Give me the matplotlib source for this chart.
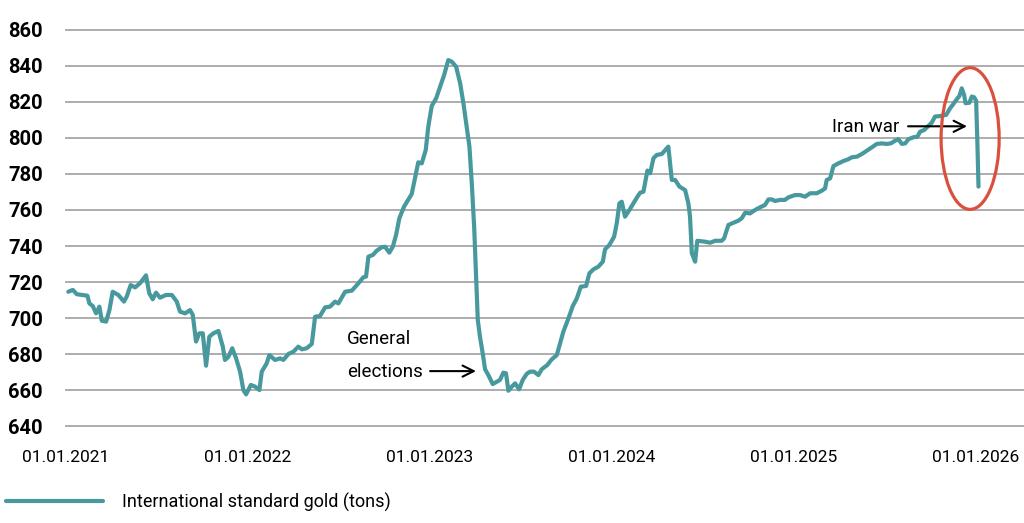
import matplotlib
matplotlib.use("Agg")
import matplotlib.pyplot as plt
import matplotlib.dates as mdates
from matplotlib.patches import Ellipse
import pandas as pd

# years since 01.01.2021
t = [0.015, 0.040, 0.062, 0.089, 0.120, 0.131, 0.149, 0.168, 0.186, 0.199,
     0.223, 0.241, 0.259, 0.290, 0.321, 0.336, 0.358, 0.382, 0.409, 0.442,
     0.460, 0.479, 0.497, 0.519, 0.552, 0.584, 0.611, 0.629, 0.657, 0.684,
     0.699, 0.717, 0.735, 0.754, 0.772, 0.790, 0.812, 0.840, 0.864, 0.876,
     0.895, 0.916, 0.937, 0.959, 0.977, 0.992, 1.018, 1.041, 1.065, 1.078,
     1.105, 1.120, 1.151, 1.179, 1.197, 1.224, 1.252, 1.279, 1.298, 1.325,
     1.353, 1.371, 1.398, 1.426, 1.453, 1.481, 1.499, 1.536, 1.573, 1.609,
     1.636, 1.651, 1.664, 1.688, 1.710, 1.737, 1.755, 1.779, 1.798, 1.816,
     1.834, 1.860, 1.884, 1.902, 1.920, 1.938, 1.957, 1.979, 1.993, 2.012,
     2.036, 2.058, 2.080, 2.103, 2.122, 2.146, 2.168, 2.186, 2.204, 2.219,
     2.232, 2.245, 2.255, 2.265, 2.277, 2.292, 2.305, 2.323, 2.347, 2.369,
     2.387, 2.405, 2.420, 2.433, 2.452, 2.470, 2.492, 2.512, 2.534, 2.552,
     2.574, 2.598, 2.616, 2.647, 2.671, 2.699, 2.717, 2.735, 2.763, 2.787,
     2.809, 2.831, 2.860, 2.878, 2.900, 2.927, 2.952, 2.964, 2.988, 3.014,
     3.029, 3.043, 3.056, 3.074, 3.098, 3.120, 3.142, 3.157, 3.175, 3.197,
     3.212, 3.230, 3.248, 3.276, 3.312, 3.331, 3.349, 3.373, 3.404, 3.422,
     3.431, 3.441, 3.459, 3.471, 3.514, 3.541, 3.569, 3.605, 3.618, 3.642,
     3.669, 3.697, 3.715, 3.734, 3.761, 3.788, 3.816, 3.843, 3.862, 3.880,
     3.898, 3.926, 3.953, 3.971, 4.008, 4.036, 4.063, 4.091, 4.127, 4.155,
     4.173, 4.182, 4.201, 4.219, 4.246, 4.274, 4.301, 4.320, 4.347, 4.375,
     4.402, 4.430, 4.457, 4.485, 4.512, 4.534, 4.558, 4.576, 4.595, 4.613,
     4.631, 4.658, 4.680, 4.695, 4.717, 4.741, 4.759, 4.777, 4.805, 4.838,
     4.860, 4.878, 4.900, 4.911, 4.924, 4.937, 4.945, 4.966, 4.979, 4.992,
     5.003, 5.010, 5.016]
gold_tons = [714.6, 715.6, 713.2, 712.8, 712.4, 708.1, 706.7, 702.6, 706.3, 698.5,
             698.0, 704.4, 714.6, 712.8, 709.1, 711.9, 718.3, 717.0, 719.3, 723.7,
             713.7, 710.4, 714.1, 711.3, 712.8, 712.8, 709.1, 703.5, 702.6, 704.4,
             701.7, 686.9, 691.5, 691.5, 673.5, 689.6, 691.5, 692.8, 684.1, 676.7,
             678.5, 683.2, 677.6, 670.2, 660.0, 657.6, 662.8, 661.9, 660.0, 670.2,
             674.8, 679.4, 676.7, 677.6, 676.7, 680.0, 681.3, 684.1, 682.6, 683.2,
             685.6, 700.7, 701.1, 705.9, 706.3, 709.1, 708.1, 714.6, 715.2, 719.3,
             722.6, 723.0, 734.1, 735.0, 737.4, 739.3, 739.6, 736.3, 739.6, 746.1,
             755.4, 761.9, 765.9, 768.9, 777.6, 786.5, 785.9, 793.3, 806.3, 817.8,
             822.0, 828.5, 835.0, 843.3, 842.4, 839.6, 830.4, 819.3, 806.3, 795.2,
             774.8, 750.7, 724.8, 698.9, 689.6, 680.4, 671.5, 668.3, 663.3, 664.6,
             665.6, 669.6, 669.3, 659.6, 661.9, 663.7, 660.4, 665.6, 669.0, 670.2,
             670.2, 668.3, 671.5, 673.9, 677.0, 679.4, 685.9, 692.4, 699.8, 706.7,
             710.9, 717.4, 717.8, 724.8, 727.0, 728.5, 731.3, 738.1, 740.6, 745.2,
             752.9, 763.7, 764.6, 756.3, 760.0, 763.7, 767.4, 769.6, 770.2, 781.9,
             780.4, 788.7, 790.6, 791.1, 795.2, 776.7, 776.7, 773.0, 771.1, 763.7,
             756.3, 736.0, 731.3, 742.9, 742.4, 741.8, 742.9, 742.9, 744.2, 751.7,
             752.9, 754.1, 755.4, 758.5, 758.1, 760.0, 761.5, 762.8, 765.9, 765.9,
             765.0, 765.6, 765.6, 767.0, 768.3, 768.3, 767.4, 769.3, 769.3, 770.7,
             772.0, 776.7, 777.6, 784.4, 785.9, 787.2, 788.2, 789.3, 789.6, 791.1,
             792.9, 794.8, 796.7, 797.0, 796.7, 797.0, 798.5, 799.3, 796.7, 797.0,
             799.3, 800.4, 800.7, 803.5, 804.4, 806.7, 808.5, 811.9, 812.2, 812.8,
             816.5, 818.9, 822.0, 823.3, 827.6, 823.9, 819.3, 819.6, 823.0, 822.6,
             820.7, 797.0, 773.0]

year_ticks = ["2021-01-01", "2022-01-01", "2023-01-01", "2024-01-01",
              "2025-01-01", "2026-01-01"]
y_ticks = [640, 660, 680, 700, 720, 740, 760, 780, 800, 820, 840, 860]

TEAL = "#48999d"
RED = "#d9503e"

plt.rcParams["font.family"] = ["Roboto", "DejaVu Sans"]

start = pd.Timestamp("2021-01-01")


def at(years):
    return start + pd.Timedelta(days=years * 365.25)


dates = [at(v) for v in t]

fig = plt.figure(figsize=(10.24, 5.23), dpi=100)
ax = fig.add_axes([65 / 1024, 95 / 523, 959 / 1024, 400 / 523])

ax.plot(dates, gold_tons, color=TEAL, lw=3, solid_joinstyle="round",
        solid_capstyle="round", label="International standard gold (tons)")

ax.set_ylim(638.9, 861.1)
ax.set_xlim(at(-0.003), at(5.266))
ax.set_yticks(y_ticks)
ax.set_xticks(pd.to_datetime(year_ticks))
ax.xaxis.set_major_formatter(mdates.DateFormatter("%d.%m.%Y"))
ax.grid(True, axis="y", color="#a0a0a0", lw=1.2)
ax.set_axisbelow(True)
for s in ax.spines.values():
    s.set_visible(False)
ax.tick_params(axis="both", length=0)
ax.tick_params(axis="y", pad=16)
ax.tick_params(axis="x", pad=16)
for lab in ax.get_yticklabels():
    lab.set_fontweight("bold")
    lab.set_fontsize(14.5)
for lab in ax.get_xticklabels():
    lab.set_fontsize(12.5)

# red ellipse around the last drop
cx = mdates.date2num(at(4.970))
ax.add_patch(Ellipse((cx, 799.7), width=0.319 * 365.25, height=78.7,
                     fill=False, edgecolor=RED, lw=2.3, zorder=4))

arrow = dict(arrowstyle="->", color="black", lw=1.5, mutation_scale=20,
             shrinkA=0, shrinkB=0)
ax.annotate("", xy=(at(4.953), 806.5), xytext=(at(4.629), 806.5),
            arrowprops=arrow)
ax.text(at(4.210), 806.0, "Iran war", fontsize=13.5, va="center", ha="left")

ax.annotate("", xy=(at(2.255), 670.5), xytext=(at(2.003), 670.5),
            arrowprops=arrow)
ax.text(at(1.547), 688.3, "General", fontsize=13.5, va="center", ha="left")
ax.text(at(1.547), 670.0, "elections", fontsize=13.5, va="center", ha="left")

fig.legend(loc="center left", bbox_to_anchor=(0.0, 1 - 502 / 523),
           frameon=False, fontsize=13, handlelength=5.4, handletextpad=1.05,
           borderpad=0, borderaxespad=0.33)

fig.savefig("out.png", dpi=100)
